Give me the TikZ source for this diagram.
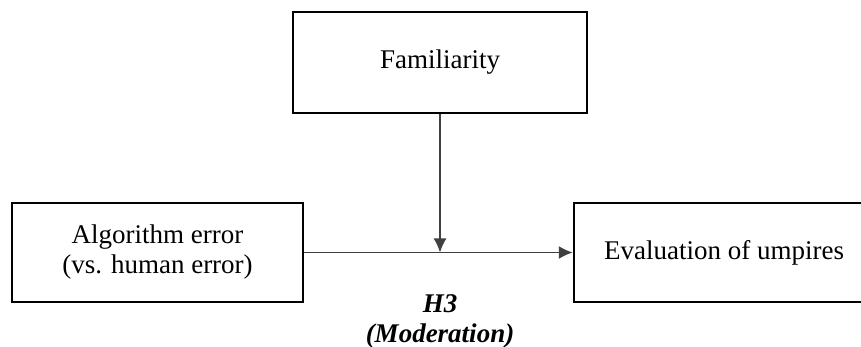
\documentclass[tikz,border=0pt]{standalone}
\usepackage{fontspec}
\setmainfont{Liberation Serif}
\usetikzlibrary{arrows.meta}
\begin{document}
\begin{tikzpicture}[x=0.5pt,y=-0.5pt,
  font=\fontsize{13.5}{15}\selectfont,
  varbox/.style={draw, line width=1.25pt, align=center, inner sep=0pt},
  link/.style={draw=black!75, line width=0.8pt, -{Latex[length=7pt,width=6.5pt]}}]
\useasboundingbox (0,0) rectangle (861,347);
\node[varbox, minimum width=147pt, minimum height=50.5pt] (familiarity) at (440,62.5) {Familiarity};
\node[varbox, minimum width=145.5pt, minimum height=49.5pt] (algorithm) at (157.5,252.5) {Algorithm error\\(vs. human error)};
\node[varbox, minimum width=150pt, minimum height=49.5pt] (evaluation) at (724,252.5) {Evaluation of umpires};
\coordinate (meet) at (familiarity.south |- algorithm.east);
\draw[link] (algorithm) -- (evaluation);
\draw[link] (familiarity) -- (meet);
\node[align=center, font=\fontsize{13.5}{15}\selectfont\bfseries\itshape] (h3) at (440,321) {H3\\(Moderation)};
\end{tikzpicture}
\end{document}
